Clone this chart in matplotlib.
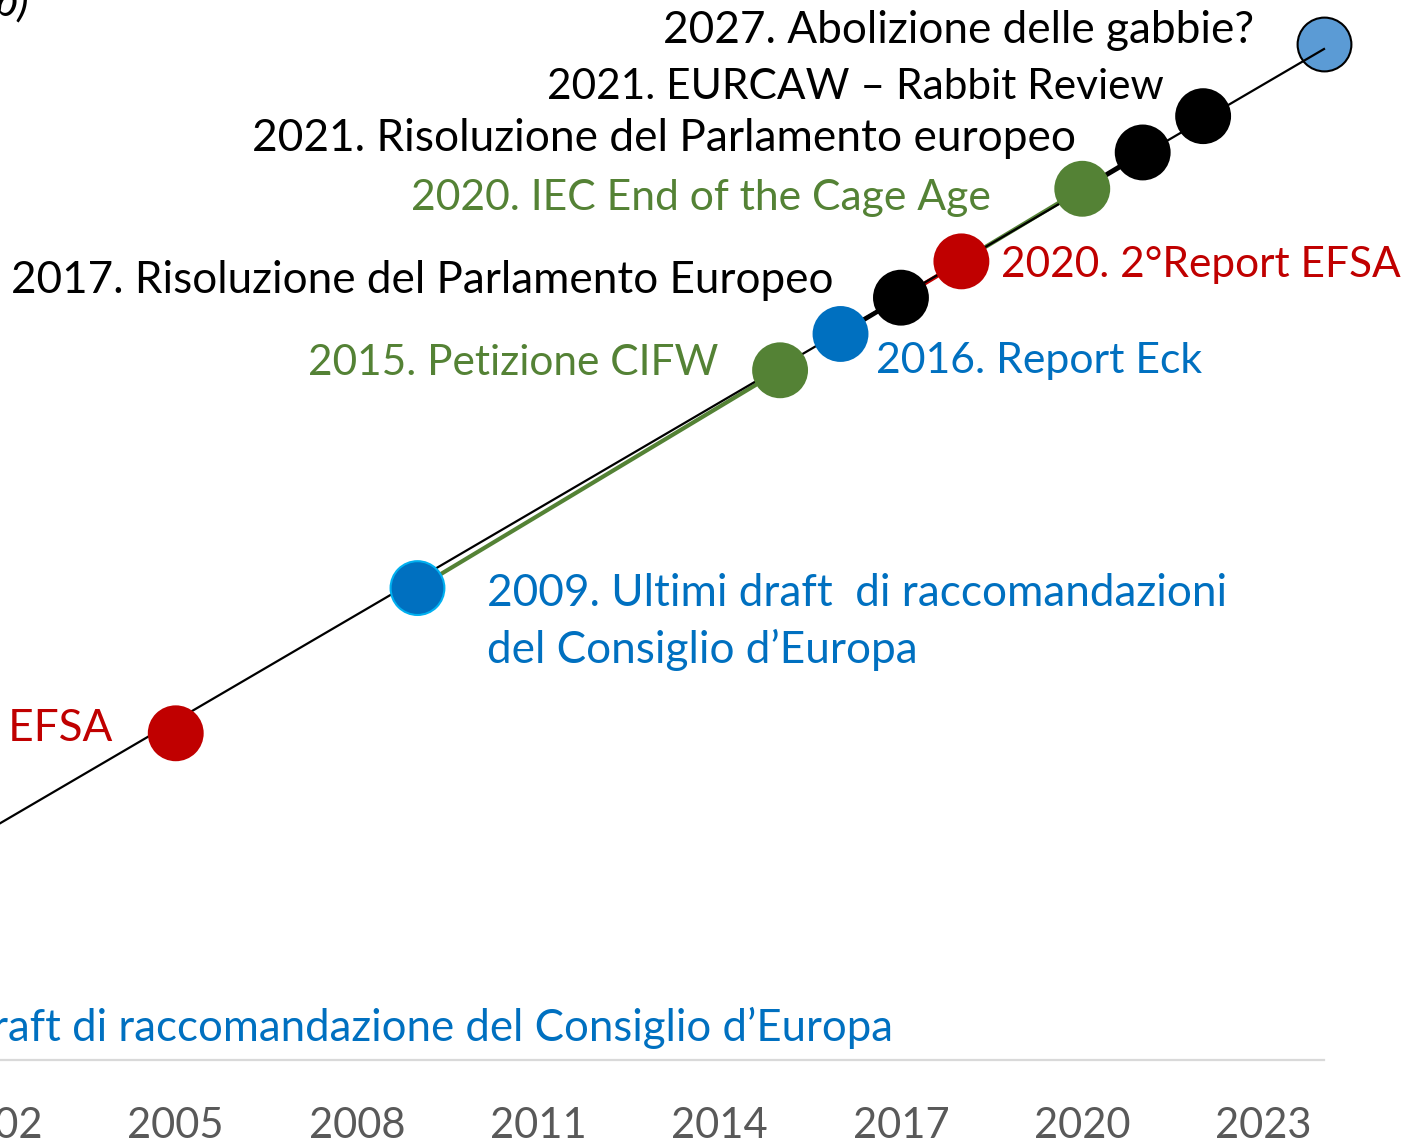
import matplotlib
matplotlib.use("Agg")
import matplotlib.pyplot as plt

plt.rcParams['font.family'] = ['Lato', 'DejaVu Sans']

# Event points (year, height on the timeline)
years = [2005, 2009, 2015, 2016, 2017, 2018, 2020, 2021, 2022, 2024]
levels = [9, 13, 19, 20, 21, 22, 24, 25, 26, 28]
colors = ['#c00000', '#0070c0', '#548235', '#0070c0', '#000000',
          '#c00000', '#548235', '#000000', '#000000', '#5b9bd5']
edges = ['#c00000', '#00b0f0', '#548235', '#0070c0', '#000000',
         '#c00000', '#548235', '#000000', '#000000', '#000000']

labels = [
    "2005. 1°Report EFSA",
    "2009. Ultimi draft  di raccomandazioni\ndel Consiglio d\u2019Europa",
    "2015. Petizione CIFW",
    "2016. Report Eck",
    "2017. Risoluzione del Parlamento Europeo",
    "2020. 2°Report EFSA",
    "2020. IEC End of the Cage Age",
    "2021. Risoluzione del Parlamento europeo",
    "2021. EURCAW \u2013 Rabbit Review",
    "2027. Abolizione delle gabbie?",
]
label_colors = ['#c00000', '#0070c0', '#548235', '#0070c0', '#000000',
                '#c00000', '#548235', '#000000', '#000000', '#000000']

# coloured connectors between consecutive events (from index, to index, colour)
segments = [(1, 2, '#548235'), (3, 4, '#000000'),
            (4, 5, '#c00000'), (5, 6, '#548235'), (6, 7, '#000000')]

# straight black timeline
trend_years = [2002, 2024]
trend_levels = [6.43, 27.85]

first_label = "2002. Primo draft di raccomandazione del Consiglio d\u2019Europa"
tick_years = [2002, 2005, 2008, 2011, 2014, 2017, 2020, 2023]

# Lato is a bit wider than Calibri in places, so sizes are tuned per label
label_sizes = [31.8, 31.8, 30.5, 30.8, 31.7, 30.5, 30.7, 31.9, 30.5, 31.8]

W, H = 1404, 1141
fig = plt.figure(figsize=(W / 100, H / 100), dpi=100)
left_px, right_px = -66, 1324
ax = fig.add_axes([left_px / W, 81 / H, (right_px - left_px) / W, 1060 / H])
ax.set_xlim(2001, 2024)
ax.set_ylim(0, 29.2)

for i, j, c in segments:
    ax.plot([years[i], years[j]], [levels[i], levels[j]], color=c, lw=3,
            solid_capstyle='butt', zorder=2)
ax.plot(trend_years, trend_levels, color='black', lw=1.6, zorder=3, clip_on=False)
ax.scatter(years[:-1], levels[:-1], s=1500, c=colors[:-1], edgecolors=edges[:-1],
           linewidths=1.5, zorder=4, clip_on=False)
# last point sits under the line end
ax.scatter(years[-1:], levels[-1:], s=1500, c=colors[-1:], edgecolors=edges[-1:],
           linewidths=1.5, zorder=2.5, clip_on=False)

# label offsets in pixels (dx, dy, ha)
offsets = [(-63, 5, 'right'), (70, -34, 'left'), (-62, 7, 'right'),
           (35, -27, 'left'), (-67, 17, 'right'), (40, -4, 'left'),
           (-91, -9, 'right'), (-67, 14, 'right'), (-39, 29, 'right'),
           (-70, 13, 'right')]
for x, y, txt, c, fs, (dx, dy, ha) in zip(years, levels, labels, label_colors,
                                          label_sizes, offsets):
    ax.annotate(txt, (x, y), xytext=(dx, dy), textcoords='offset pixels',
                ha=ha, va='center', color=c, fontsize=fs, linespacing=1.45,
                annotation_clip=False)
ax.annotate(first_label, (2002, 0), xytext=(899, 32), textcoords='offset pixels',
            ha='right', va='center', color='#0070c0', fontsize=31.5,
            annotation_clip=False)

ax.set_xticks(tick_years)
ax.set_xticklabels([str(t) for t in tick_years])
ax.tick_params(axis='x', length=0, pad=34, labelsize=30, labelcolor='#595959')
ax.set_yticks([])
for s in ['top', 'left', 'right']:
    ax.spines[s].set_visible(False)
ax.spines['bottom'].set_color('#d9d9d9')
ax.spines['bottom'].set_linewidth(1.6)

fig.text(-0.004, 1 - 16 / H, "b)", style='italic', fontsize=31.8, ha='left',
         va='baseline')

fig.savefig("out.png", dpi=100)
